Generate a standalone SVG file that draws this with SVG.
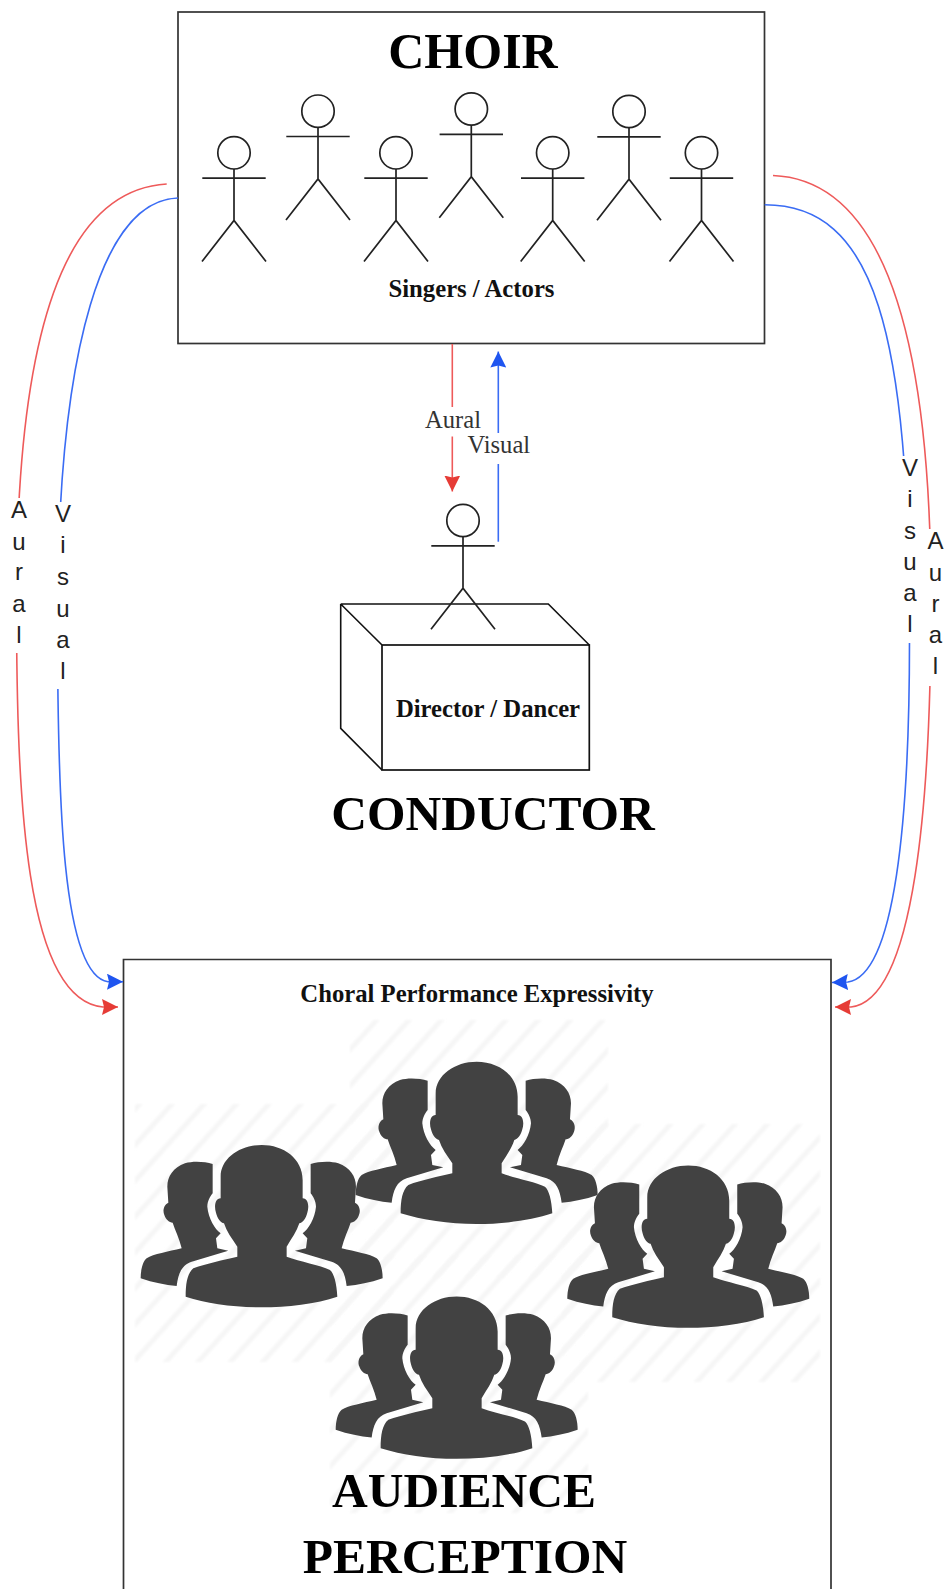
<svg xmlns="http://www.w3.org/2000/svg" width="946" height="1589" viewBox="0 0 946 1589">
<style>
.box{fill:#fff;stroke:#333;stroke-width:1.7}
.ln{fill:none;stroke:#111;stroke-width:1.6}
.fig{fill:none;stroke:#222;stroke-width:1.7}
.red{fill:none;stroke:#ee5a5a;stroke-width:1.6}
.blue{fill:none;stroke:#3a6cf4;stroke-width:1.6}
.serif{font-family:"Liberation Serif","Times New Roman",serif;fill:#111}
.title{font-size:49.5px;font-weight:bold;text-anchor:middle;fill:#000}
.sub{font-size:24.7px;font-weight:bold;text-anchor:middle}
.lab{font-size:24.6px;text-anchor:middle;fill:#333}
.vert{font-family:"Liberation Sans",Arial,sans-serif;font-size:24px;text-anchor:middle;fill:#222}
.bust{fill:#424242}
.hatch{fill:url(#hatch);filter:url(#soft)}
</style>
<defs>
<marker id="ar" viewBox="0 0 16 16" refX="16" refY="8" markerWidth="16" markerHeight="16" markerUnits="userSpaceOnUse" orient="auto"><path d="M0 0L16 8L0 16L2 8Z" fill="#e63c36"/></marker>
<marker id="ab" viewBox="0 0 16 16" refX="16" refY="8" markerWidth="16" markerHeight="16" markerUnits="userSpaceOnUse" orient="auto"><path d="M0 0L16 8L0 16L2 8Z" fill="#1f55f0"/></marker>
<pattern id="hatch" width="24" height="24" patternUnits="userSpaceOnUse" patternTransform="rotate(42)"><rect width="5" height="24" fill="#f6f6f6"/></pattern>
<filter id="soft" x="-5%" y="-5%" width="110%" height="110%"><feGaussianBlur stdDeviation="1.2"/></filter>
<g id="stick" class="fig"><circle cx="0" cy="0" r="16.2"/><path d="M0 16.2V67.7M-31.7 25.3H31.7M-32 108.7L0 67.7L32 108.7"/></g>
<path id="side" d="M248 402C225 395 190 392 165 400C130 412 112 440 112 470L115 518C100 525 98 545 103 555C108 570 118 577 128 578C135 600 148 625 155 655C115 665 70 672 50 685C38 695 32 720 32 745C70 758 105 765 140 768C145 730 155 705 185 695L295 662L262 655L258 625L272 610C255 598 235 565 232 530C232 515 240 500 248 490Z"/>
<g id="crowd" class="bust">
<use href="#side"/>
<use href="#side" transform="matrix(-1 0 0 1 790 0)"/>
<path d="M395 345C460 345 518 385 518 450L518 505C535 505 538 530 532 548C528 565 518 578 508 580C500 605 485 625 470 650L470 680C510 695 570 705 600 720C612 730 620 760 622 800C560 822 470 832 395 832C310 832 230 820 167 800C167 760 172 730 190 715C230 700 280 690 322 680L322 650C305 625 290 605 282 580C272 578 262 565 258 548C252 530 255 505 272 505L272 440C272 385 330 345 395 345Z"/>
</g>
</defs>
<rect width="946" height="1589" fill="#fff"/>

<g id="audience">
<path class="box" d="M123.5 1590V959.5H831V1590"/>
<rect class="hatch" x="135" y="1104" width="258" height="258"/>
<rect class="hatch" x="350" y="1020" width="258" height="258"/>
<rect class="hatch" x="562" y="1124" width="258" height="258"/>
<rect class="hatch" x="330" y="1255" width="258" height="258"/>
<use href="#crowd" transform="translate(130 1030) scale(.3333)"/>
<use href="#crowd" transform="translate(345 946.7) scale(.3333)"/>
<use href="#crowd" transform="translate(556.6 1050.5) scale(.3333)"/>
<use href="#crowd" transform="translate(325 1181.5) scale(.3333)"/>
<text class="serif sub" x="477" y="1001.5">Choral Performance Expressivity</text>
<text class="serif title" x="464" y="1506.5">AUDIENCE</text>
<text class="serif title" x="465" y="1572.5">PERCEPTION</text>
</g>

<g id="choir">
<rect class="box" x="178" y="12" width="586.5" height="331.5"/>
<text class="serif title" x="473" y="68" style="font-size:50px">CHOIR</text>
<use href="#stick" x="234" y="152.8"/>
<use href="#stick" x="318" y="111.2"/>
<use href="#stick" x="396" y="152.8"/>
<use href="#stick" x="471.3" y="109"/>
<use href="#stick" x="552.7" y="152.8"/>
<use href="#stick" x="629" y="111.5"/>
<use href="#stick" x="701.5" y="152.8"/>
<text class="serif sub" x="471.5" y="296.5">Singers / Actors</text>
</g>

<g id="conductor">
<path class="ln" d="M340.7 604H548.3L589.3 645M340.7 604L382 645M340.7 604V728.3L382 770"/>
<rect x="382" y="645" width="207.3" height="125" fill="none" stroke="#111" stroke-width="1.7"/>
<use href="#stick" x="463" y="520.5"/>
<text class="serif sub" x="488" y="716.5">Director / Dancer</text>
<text class="serif title" x="493" y="830">CONDUCTOR</text>
</g>

<g id="connectors">
<path class="red" d="M166.7 184C65 190 16.5 330 16.5 600C16.5 800 25 1000 103 1007L118 1007" marker-end="url(#ar)"/>
<path class="blue" d="M178 198C105 200 57.5 340 57.5 620C57.5 800 62 975 108 981.7L123 981.7" marker-end="url(#ab)"/>
<path class="red" d="M773 175.5C885 180 931 340 931 600C931 800 915 1000 851 1007L835 1007" marker-end="url(#ar)"/>
<path class="blue" d="M764.7 204.8C875 205 909.5 330 909.5 640C909.5 820 895 975 848 982L832 982.5" marker-end="url(#ab)"/>
<path class="red" d="M452.3 344V491.5" marker-end="url(#ar)"/>
<path class="blue" d="M498.3 541.7V351.5" marker-end="url(#ab)"/>
</g>

<g id="connector-labels">
<rect x="8" y="498" width="20" height="155" fill="#fff"/>
<text class="vert" x="19 19 19 19 19" y="518 550 580 612 643">Aural</text>
<rect x="51" y="502" width="21" height="187" fill="#fff"/>
<text class="vert" x="63 63 63 63 63 63" y="521.7 553.4 585 616.6 647.6 678.6">Visual</text>
<rect x="901" y="456" width="20" height="187" fill="#fff"/>
<text class="vert" x="910 910 910 910 910 910" y="475.5 507 539 570 601 632">Visual</text>
<rect x="925" y="529" width="21" height="157" fill="#fff"/>
<text class="vert" x="935.5 935.5 935.5 935.5 935.5" y="549 580.7 611.7 642.8 673.8">Aural</text>
<rect x="425" y="407" width="56" height="29.5" fill="#fff"/>
<text class="serif lab" x="453" y="428.3">Aural</text>
<rect x="467" y="433" width="64" height="31" fill="#fff"/>
<text class="serif lab" x="498.8" y="453.3">Visual</text>
</g>
</svg>
